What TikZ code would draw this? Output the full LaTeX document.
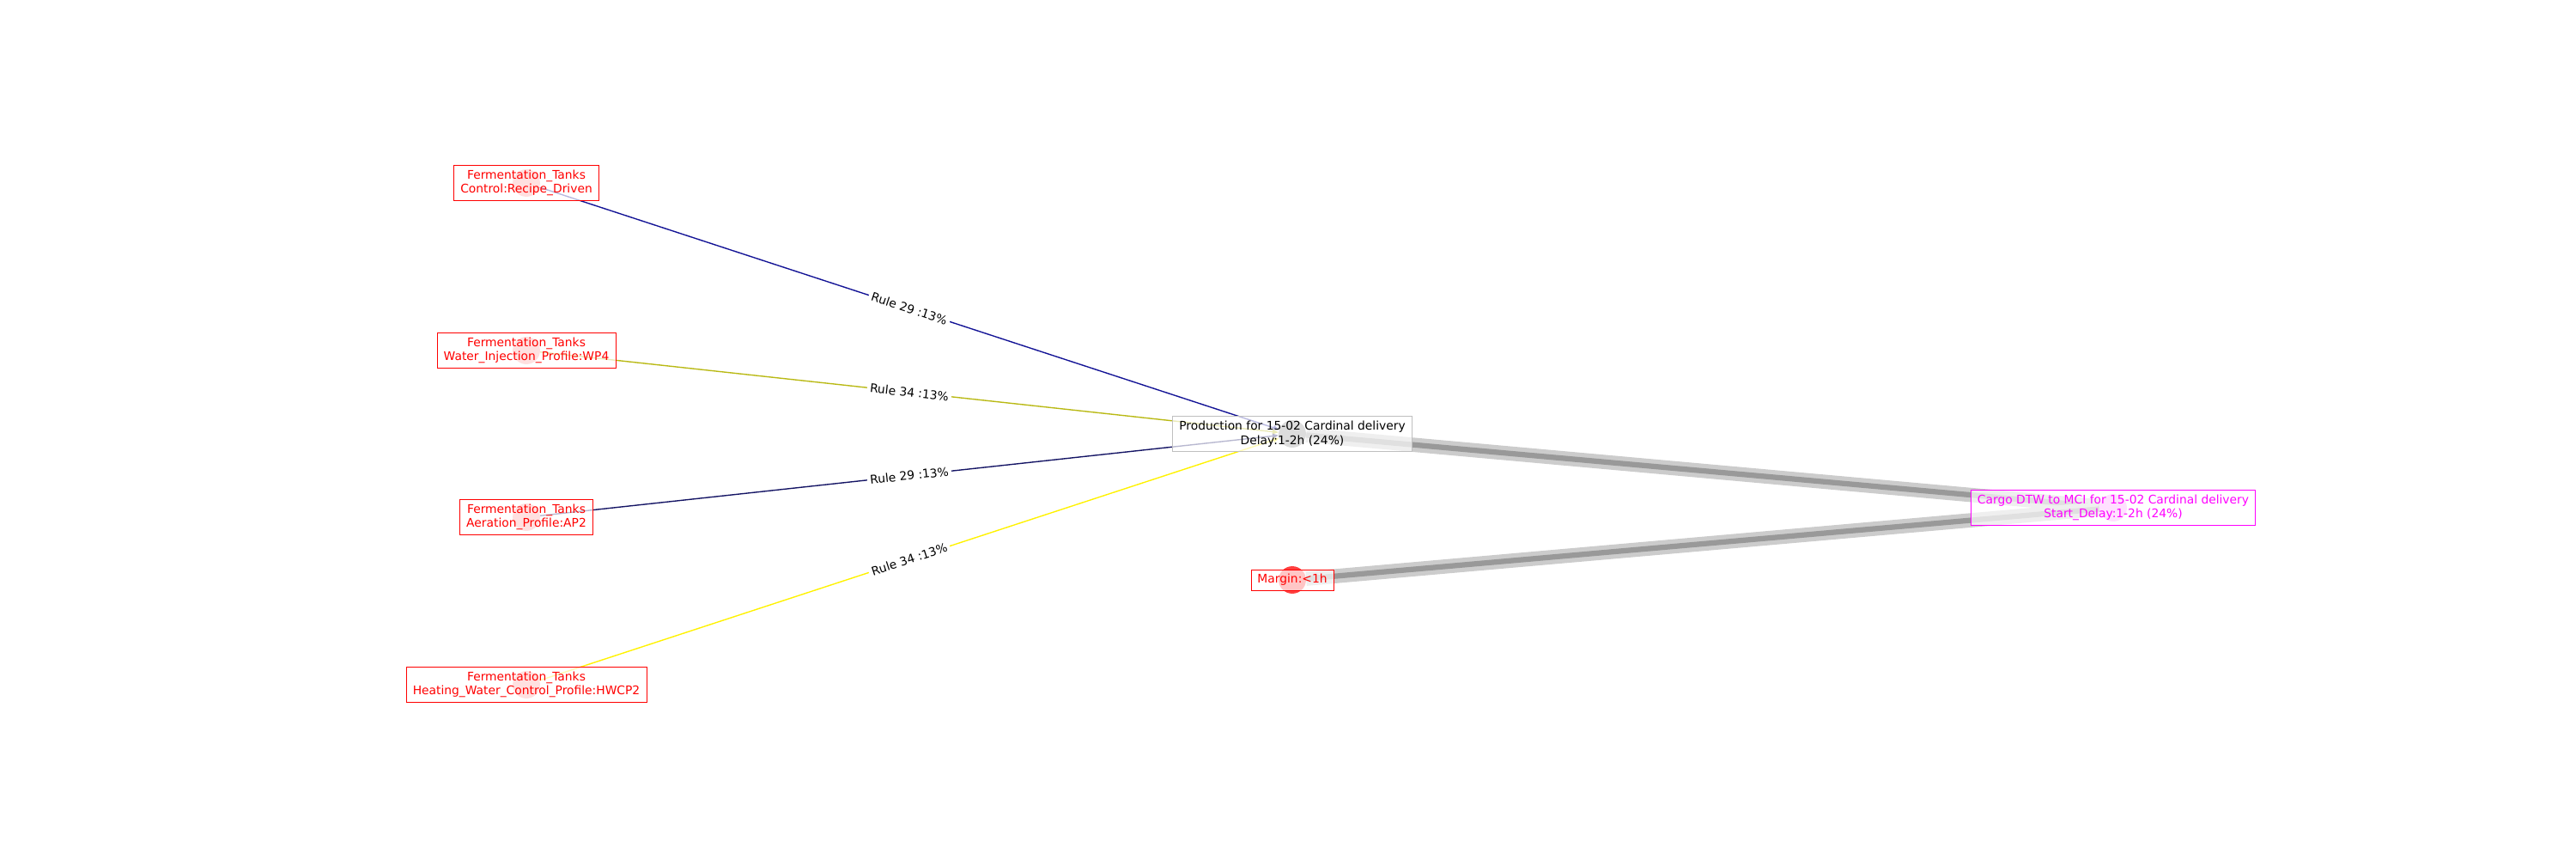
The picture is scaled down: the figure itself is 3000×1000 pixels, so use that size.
\documentclass[tikz,border=0pt]{standalone}
\usepackage{fontspec}
\setmainfont{DejaVu Sans}
\usetikzlibrary{arrows.meta}

\definecolor{rulenavy}{RGB}{20,20,150}
\definecolor{ruledark}{RGB}{20,20,100}
\definecolor{ruleolive}{RGB}{185,185,20}
\definecolor{tagred}{RGB}{255,0,0}
\definecolor{tagmagenta}{RGB}{255,0,255}

\begin{document}
\begin{tikzpicture}[x=0.254mm, y=-0.254mm, >={Triangle[length=5pt, width=4pt]},
  every node/.style={font=\fontsize{10}{12}\selectfont},
  marker/.style={circle, minimum size=8.1mm, inner sep=0pt, fill=#1},
  tag/.style={draw=#1, text=#1, fill=white, fill opacity=0.7, text opacity=1,
    align=center, inner xsep=5.5pt, inner ysep=4pt},
  rule/.style={draw=#1, line width=1pt, ->},
  rulelabel/.style={midway, sloped, fill=white, text=black, inner sep=2.5pt},
  flow/.style={draw=black!20, line width=12pt},
  flowcore/.style={draw=black!40, line width=4.5pt}]

% The picture is laid out in pixels of the 3000 x 1000 frame (y down)
\useasboundingbox (0,0) rectangle (3000,1000);

% Markers under the labels
\node[marker=tagred!40]     (ctl)   at (613, 213) {};
\node[marker=tagred!40]     (wp)    at (613, 408) {};
\node[marker=tagred!40]     (ap)    at (613, 602) {};
\node[marker=tagred!40]     (hw)    at (613, 797) {};
\node[marker=black!45]      (prod)  at (1505, 505) {};
\node[marker=tagred!75]     (mrg)   at (1505, 675) {};
\node[marker=tagmagenta!40] (cargo) at (2461, 591) {};

% Delay propagation (thick grey bands)
\draw[flow]     (prod) -- (cargo);
\draw[flowcore] (prod) -- (cargo);
\draw[flow]     (mrg) -- (cargo);
\draw[flowcore] (mrg) -- (cargo);

% Rules feeding the production step
\draw[rule=rulenavy]  (ctl) -- (prod) node[rulelabel] {Rule 29 :13\%};
\draw[rule=ruleolive] (wp)  -- (prod) node[rulelabel] {Rule 34 :13\%};
\draw[rule=ruledark]  (ap)  -- (prod) node[rulelabel] {Rule 29 :13\%};
\draw[rule=yellow]    (hw)  -- (prod) node[rulelabel] {Rule 34 :13\%};

% labels
\node[tag=tagred] (ctl label) at (ctl) {Fermentation\_Tanks\\Control:Recipe\_Driven};
\node[tag=tagred] (wp label)  at (wp)  {Fermentation\_Tanks\\Water\_Injection\_Profile:WP4};
\node[tag=tagred] (ap label)  at (ap)  {Fermentation\_Tanks\\Aeration\_Profile:AP2};
\node[tag=tagred] (hw label)  at (hw)  {Fermentation\_Tanks\\Heating\_Water\_Control\_Profile:HWCP2};
\node[tag=black!25, text=black] (prod label) at (prod)
  {Production for 15-02 Cardinal delivery\\Delay:1-2h (24\%)};
\node[tag=tagred] (mrg label) at (mrg) {Margin:<1h};
\node[tag=tagmagenta] (cargo label) at (cargo)
  {Cargo DTW to MCI for 15-02 Cardinal delivery\\Start\_Delay:1-2h (24\%)};

\end{tikzpicture}
\end{document}
